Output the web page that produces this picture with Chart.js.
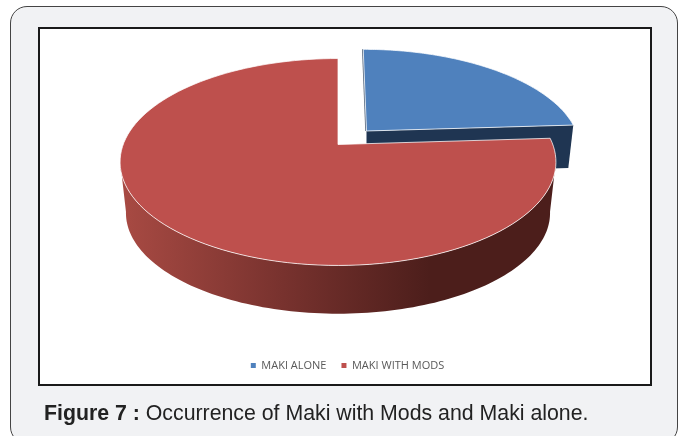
<!DOCTYPE html>
<html>
<head>
<meta charset="utf-8">
<script src="https://cdn.jsdelivr.net/npm/chart.js@4"></script>
<style>
html, body { margin: 0; padding: 0; background: #fff; overflow: hidden; }
#page { position: relative; width: 680px; height: 436px; overflow: hidden; }
#card { position: absolute; left: 10px; top: 6px; width: 666px; height: 436px; background: #f1f2f4; border: 1.5px solid #444; border-radius: 17px; }
#box { position: absolute; left: 38px; top: 27px; width: 610px; height: 355px; background: #fff; border: 2px solid #1a1a1a; }
#myChart { position: absolute; left: 0; top: 0; }
#caption { position: absolute; left: 44px; top: 401px; font: 21.3px "Liberation Sans", Arial, sans-serif; color: #222; white-space: nowrap; }
</style>
</head>
<body>
<div id="page">
    <div id="card"></div>
    <div id="box"></div>
    <canvas id="myChart" width="680" height="436"></canvas>
    <div id="caption"><b>Figure 7 :</b> Occurrence of Maki with Mods and Maki alone.</div>
</div>
<script>
var categories = ['MAKI ALONE', 'MAKI WITH MODS'];
var shares = [24, 76];
var sliceColors = ['#4F81BD', '#BE504D'];

// perspective of the pie plane
var tilt = { a: 100.5, b: 214.8, k: 0.169 };
var redSlice = { x: 338, y: 144.5, sx: 1, sy: 1, shear: 0 };
var redBase = { x: 338, y: 196, sx: 0.973, sy: 0.973, shear: 0 };
var blueSlice = { x: 366.5, y: 131, sx: 0.976, sy: 0.95, shear: -0.04 };
var blueDepth = 43;

function rimPoint(p, angle) {
    var u = Math.cos(angle), v = -Math.sin(angle);
    var w = 1 + tilt.k * v;
    var dy = tilt.a * v / w * p.sy;
    return { x: p.x + tilt.b * u / w * p.sx + dy * p.shear, y: p.y - dy };
}

function traceRim(ctx, p, from, to) {
    var n = 120;
    for (var i = 0; i <= n; i++) {
        var q = rimPoint(p, from + (to - from) * i / n);
        ctx.lineTo(q.x, q.y);
    }
}

function topFace(ctx, p, from, to, color) {
    ctx.beginPath();
    ctx.moveTo(p.x, p.y);
    traceRim(ctx, p, from, to);
    ctx.closePath();
    ctx.fillStyle = color;
    ctx.fill();
    ctx.lineWidth = 1;
    ctx.strokeStyle = 'rgba(255, 255, 255, 0.75)';
    ctx.stroke();
}

var pie3d = {
    id: 'pie3d',
    beforeDatasetDraw: function (chart, args) {
        var ctx = chart.ctx;
        var arcs = args.meta.data;
        var blue = arcs[0], red = arcs[1];
        ctx.save();

        // blue cut face
        var end = rimPoint(blueSlice, blue.endAngle);
        ctx.beginPath();
        ctx.moveTo(blueSlice.x, blueSlice.y);
        ctx.lineTo(end.x, end.y);
        ctx.lineTo(end.x - 5, end.y + blueDepth);
        ctx.lineTo(blueSlice.x, blueSlice.y + blueDepth);
        ctx.closePath();
        ctx.fillStyle = '#1F3552';
        ctx.fill();

        // thin wall on the left of the blue slice
        var start = rimPoint(blueSlice, blue.startAngle);
        ctx.beginPath();
        ctx.moveTo(start.x - 0.5, start.y);
        ctx.lineTo(blueSlice.x - 0.5, blueSlice.y);
        ctx.strokeStyle = '#56677d';
        ctx.lineWidth = 1.5;
        ctx.stroke();
        topFace(ctx, blueSlice, blue.startAngle, blue.endAngle, sliceColors[0]);

        // red outer wall
        var wall = ctx.createLinearGradient(122, 0, 430, 0);
        wall.addColorStop(0, '#A84A43');
        wall.addColorStop(0.5, '#7A332F');
        wall.addColorStop(1, '#4C1E1B');
        var a = Math.PI * 0.05, b = Math.PI * 0.95;
        ctx.beginPath();
        traceRim(ctx, redSlice, a, b);
        traceRim(ctx, redBase, b, a);
        ctx.closePath();
        ctx.fillStyle = wall;
        ctx.fill();

        topFace(ctx, redSlice, red.startAngle, red.endAngle, sliceColors[1]);
        ctx.restore();
        return false;
    }
};

var ctx = document.getElementById('myChart').getContext('2d');
var myChart = new Chart(ctx, {
    type: 'pie',
    data: {
        labels: categories,
        datasets: [{
            data: shares,
            backgroundColor: sliceColors,
            borderWidth: 0
        }]
    },
    plugins: [pie3d],
    options: {
        responsive: false,
        animation: false,
        layout: { padding: { left: 15, bottom: 55 } },
        plugins: {
            tooltip: { enabled: false },
            legend: {
                position: 'bottom',
                labels: {
                    boxWidth: 5,
                    boxHeight: 5,
                    padding: 15,
                    color: '#595959',
                    font: { family: 'Open Sans', size: 11 }
                }
            }
        }
    }
});
</script>
</body>
</html>
